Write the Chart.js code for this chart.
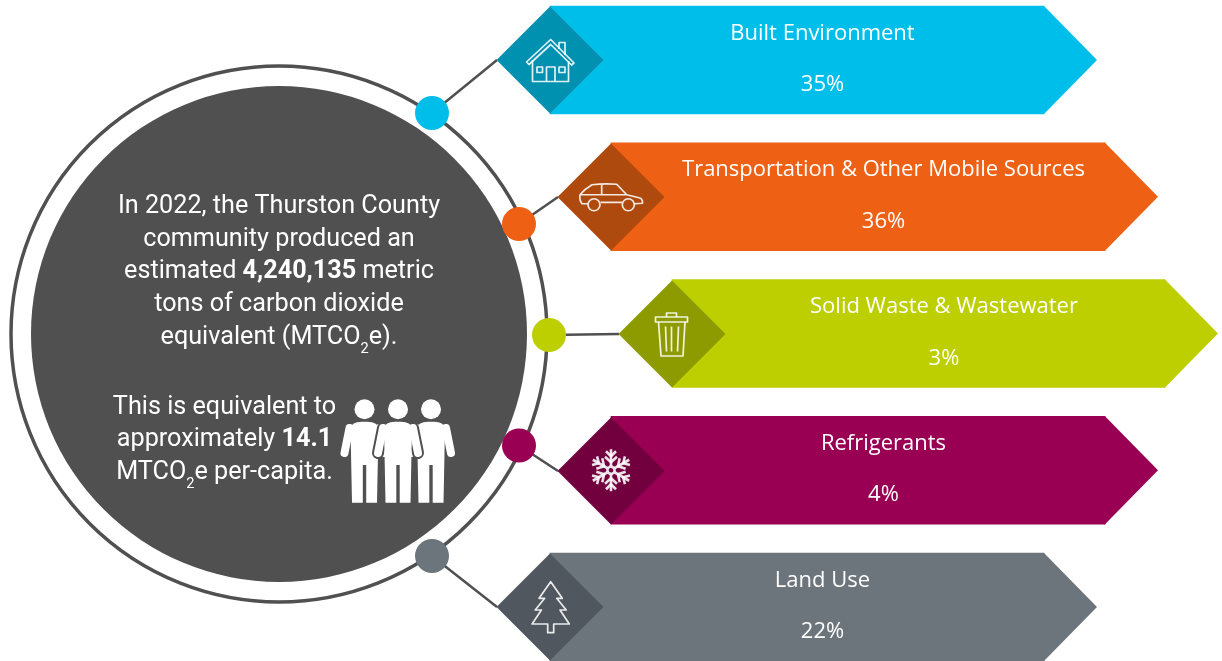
<!DOCTYPE html>
<html>
<head>
<meta charset="utf-8">
<title>Thurston County emissions</title>
<script src="https://cdn.jsdelivr.net/npm/chart.js@4"></script>
<style>
    html, body { margin: 0; padding: 0; background: #fff; overflow: hidden; }
    canvas { display: block; }
</style>
</head>
<body>
<canvas id="chart" width="1222" height="661"></canvas>
<script>
// data
const categories = ['Built Environment', 'Transportation & Other Mobile Sources', 'Solid Waste & Wastewater', 'Refrigerants', 'Land Use'];
const shares = [35, 36, 3, 4, 22];
const totalTons = '4,240,135';
const perCapita = '14.1';

// layout, in picture pixels (the banners are not drawn to scale in the original)
const bannerStart = [550, 611, 672, 611, 550];
const bannerEnd = [1044, 1105, 1165, 1105, 1044];
const dotX = [432, 519, 549, 519, 432];
const dotY = [113, 224, 335, 445.5, 556];
const anchorY = [60, 197, 334, 471, 607];
const hub = { x: 279, y: 334 };

const mainColors = ['#00BEEA', '#EE6014', '#BDCF00', '#990053', '#6C757C'];
const darkColors = ['#0090B0', '#AF4A0E', '#8E9B00', '#72003F', '#51575E'];
const DARK = '#505050';
const TEXT = '#FFFFFF';
const ICON = 'rgba(255,255,255,0.88)';

function poly(ctx, pts, close) {
    ctx.beginPath();
    pts.forEach((p, i) => i ? ctx.lineTo(p[0], p[1]) : ctx.moveTo(p[0], p[1]));
    if (close) ctx.closePath();
    ctx.stroke();
}

const icons = [
    // house
    ctx => {
        poly(ctx, [[-23.5, 2], [0.7, -20.5], [24, 3], [21.5, 5], [0.7, -15.5], [-21, 4.5]], true);
        poly(ctx, [[9, -11], [9, -17.5], [15, -17.5], [15, -5]]);
        poly(ctx, [[-17.5, 0], [-17.5, 21.5], [18.5, 21.5], [18.5, 1]]);
        poly(ctx, [[-3.5, 21.5], [-3.5, 7], [5, 7], [5, 21.5]]);
        ctx.strokeRect(-13, 7, 5.5, 5.5);
        ctx.strokeRect(8.5 + 0.5, 7, 6, 5.5);
    },
    // car
    ctx => {
        ctx.beginPath();
        ctx.moveTo(-23, 7);
        ctx.lineTo(-29, 7);
        ctx.quadraticCurveTo(-32, 3, -31, -2);
        ctx.quadraticCurveTo(-26, -8, -19, -12);
        ctx.quadraticCurveTo(-7, -13.5, 5.7, -12.5);
        ctx.lineTo(15.7, -2);
        ctx.lineTo(28, 1);
        ctx.quadraticCurveTo(32, 2, 31.5, 6.5);
        ctx.lineTo(23.5, 7);
        ctx.moveTo(-10.5, 5.7);
        ctx.lineTo(11, 5.7);
        ctx.moveTo(-31, -2);
        ctx.lineTo(15.7, -2);
        ctx.moveTo(-9.3, -12.5);
        ctx.lineTo(-9.3, -2);
        ctx.stroke();
        ctx.beginPath();
        ctx.arc(-17, 8, 6, 0, Math.PI * 2);
        ctx.moveTo(23.3, 8);
        ctx.arc(17.3, 8, 6, 0, Math.PI * 2);
        ctx.stroke();
    },
    // bin
    ctx => {
        poly(ctx, [[-16.5, -16.5], [15.5, -16.5], [15.5, -11.5], [-16.5, -11.5]], true);
        poly(ctx, [[-5.5, -16.5], [-5.5, -20.5], [4.5, -20.5], [4.5, -16.5]]);
        poly(ctx, [[-13.5, -11.5], [-11, 22.5], [11, 22.5], [13, -11.5]]);
        poly(ctx, [[-6.5, -7], [-5.5, 18]]);
        poly(ctx, [[-0.5, -7], [-0.5, 18]]);
        poly(ctx, [[6.5, -7], [5.5, 18]]);
    },
    // snowflake
    ctx => {
        ctx.save();
        ctx.lineWidth = 2.6;
        for (let i = 0; i < 6; i++) {
            poly(ctx, [[0, -4], [0, -21]]);
            poly(ctx, [[-5, -19], [0, -14], [5, -19]]);
            poly(ctx, [[-6, -13.5], [0, -8], [6, -13.5]]);
            poly(ctx, [[0, -4], [3.5, -2]]);
            ctx.rotate(Math.PI / 3);
        }
        ctx.restore();
    },
    // tree
    ctx => {
        const side = [[11.6, -8.7], [6, -8.7], [15.5, 3], [9.3, 3], [18.6, 17], [3, 17], [3, 25.7]];
        const pts = [[0.7, -25.3]].concat(side.map(p => [p[0] + 0.7, p[1]]));
        side.slice().reverse().forEach(p => pts.push([0.7 - p[0], p[1]]));
        poly(ctx, pts, true);
    }
];

function drawPerson(ctx, x, outline) {
    ctx.save();
    const shape = () => {
        ctx.beginPath();
        ctx.moveTo(x - 14, 428);
        ctx.quadraticCurveTo(x - 13, 422, x - 3, 421.7);
        ctx.lineTo(x + 3, 421.7);
        ctx.quadraticCurveTo(x + 13, 422, x + 14, 428);
        ctx.lineTo(x + 12.5, 502.7);
        ctx.lineTo(x + 1.7, 502.7);
        ctx.lineTo(x + 1.7, 465);
        ctx.lineTo(x - 1.7, 465);
        ctx.lineTo(x - 1.7, 502.7);
        ctx.lineTo(x - 12.5, 502.7);
        ctx.closePath();
    };
    const arms = () => {
        ctx.beginPath();
        ctx.moveTo(x - 15, 428);
        ctx.lineTo(x - 20, 453);
        ctx.moveTo(x + 15, 428);
        ctx.lineTo(x + 20, 453);
    };
    ctx.lineCap = 'round';
    if (outline) {
        ctx.strokeStyle = DARK;
        ctx.lineWidth = 12;
        arms();
        ctx.stroke();
    }
    ctx.fillStyle = '#FFFFFF';
    shape();
    ctx.fill();
    ctx.strokeStyle = '#FFFFFF';
    ctx.lineWidth = 8;
    arms();
    ctx.stroke();
    ctx.beginPath();
    ctx.arc(x, 409.3, 10, 0, Math.PI * 2);
    ctx.fill();
    ctx.restore();
}

// one line of hub text, made of plain, bold and subscript runs
function hubLine(ctx, runs, cx, y) {
    const size = 25.2;
    const fontOf = r => (r.bold ? 'bold ' : '') + (r.sub ? size * 0.58 : size) + 'px Roboto';
    let w = 0;
    runs.forEach(r => { ctx.font = fontOf(r); w += ctx.measureText(r.text).width; });
    let x = cx - w / 2;
    ctx.textAlign = 'left';
    ctx.textBaseline = 'alphabetic';
    ctx.fillStyle = TEXT;
    runs.forEach(r => {
        ctx.font = fontOf(r);
        ctx.fillText(r.text, x, r.sub ? y + 9.5 : y);
        x += ctx.measureText(r.text).width;
    });
}

const infographic = {
    id: 'infographic',
    afterDatasetsDraw(chart) {
        const ctx = chart.ctx;
        const xs = chart.scales.x, py = chart.scales.py;
        const bars = chart.getDatasetMeta(chart.data.datasets.findIndex(d => d.label === 'Banners')).data;
        ctx.save();
        bars.forEach((bar, i) => {
            const half = bar.height / 2;
            // arrow tip of the banner
            ctx.fillStyle = mainColors[i];
            ctx.beginPath();
            ctx.moveTo(bar.x - 1, bar.y - half);
            ctx.lineTo(bar.x, bar.y - half);
            ctx.lineTo(bar.x + half - 1, bar.y);
            ctx.lineTo(bar.x, bar.y + half);
            ctx.lineTo(bar.x - 1, bar.y + half);
            ctx.closePath();
            ctx.fill();
        });
        bars.forEach((bar, i) => {
            ctx.save();
            ctx.translate(bar.base, bar.y);
            ctx.strokeStyle = ICON;
            ctx.lineWidth = 1.7;
            ctx.lineJoin = 'round';
            icons[i](ctx);
            ctx.restore();

            const cx = (bar.base + bar.x + bar.height / 2) / 2 - 1.5;
            ctx.fillStyle = TEXT;
            ctx.textAlign = 'center';
            ctx.textBaseline = 'alphabetic';
            ctx.font = '22px "Open Sans"';
            ctx.fillText(categories[i], cx, bar.y - 20.5);
            ctx.fillText(shares[i] + '%', cx, bar.y + 31);
        });

        const cx = xs.getPixelForValue(hub.x);
        const lines = [
            [[{ text: 'In 2022, the Thurston County' }], 213],
            [[{ text: 'community produced an' }], 245.5],
            [[{ text: 'estimated ' }, { text: totalTons, bold: true }, { text: ' metric' }], 278],
            [[{ text: 'tons of carbon dioxide' }], 310.5],
            [[{ text: 'equivalent (MTCO' }, { text: '2', sub: true }, { text: 'e).' }], 343.5]
        ];
        lines.forEach(l => hubLine(ctx, l[0], cx, py.getPixelForValue(l[1])));
        const cx2 = xs.getPixelForValue(224.5);
        const lines2 = [
            [[{ text: 'This is equivalent to' }], 413.5],
            [[{ text: 'approximately ' }, { text: perCapita, bold: true }], 446],
            [[{ text: 'MTCO' }, { text: '2', sub: true }, { text: 'e per-capita.' }], 478.5]
        ];
        lines2.forEach(l => hubLine(ctx, l[0], cx2, py.getPixelForValue(l[1])));

        drawPerson(ctx, xs.getPixelForValue(364.5), false);
        drawPerson(ctx, xs.getPixelForValue(431), false);
        drawPerson(ctx, xs.getPixelForValue(398), true);
        ctx.restore();
    }
};

const connectors = categories.map((c, i) => ({
    type: 'scatter',
    label: 'Connector ' + i,
    xAxisID: 'x',
    yAxisID: 'py',
    showLine: true,
    clip: false,
    order: 5,
    borderColor: DARK,
    borderWidth: 2.5,
    pointRadius: 0,
    data: [{ x: dotX[i], y: dotY[i] }, { x: bannerStart[i] - 53, y: anchorY[i] }]
}));

new Chart(document.getElementById('chart'), {
    type: 'bar',
    plugins: [infographic],
    data: {
        labels: categories,
        datasets: [
            {
                type: 'bar',
                label: 'Banners',
                indexAxis: 'y',
                xAxisID: 'x',
                yAxisID: 'y',
                clip: false,
                order: 3,
                barThickness: 108,
                backgroundColor: mainColors,
                borderWidth: 0,
                data: categories.map((c, i) => [bannerStart[i], bannerEnd[i]])
            },
            {
                type: 'scatter',
                label: 'Diamonds',
                xAxisID: 'x',
                yAxisID: 'py',
                clip: false,
                order: 2,
                pointStyle: 'rectRot',
                pointRadius: 53.5,
                pointBorderWidth: 0,
                pointBackgroundColor: darkColors,
                data: categories.map((c, i) => ({ x: bannerStart[i], y: anchorY[i] }))
            },
            {
                type: 'scatter',
                label: 'Dots',
                xAxisID: 'x',
                yAxisID: 'py',
                clip: false,
                order: 4,
                pointRadius: 17,
                pointBorderWidth: 0,
                pointBackgroundColor: mainColors,
                data: categories.map((c, i) => ({ x: dotX[i], y: dotY[i] }))
            },
            ...connectors,
            {
                type: 'scatter',
                label: 'Disk',
                xAxisID: 'x',
                yAxisID: 'py',
                clip: false,
                order: 6,
                pointRadius: 248,
                pointBorderWidth: 0,
                pointBackgroundColor: DARK,
                data: [hub]
            },
            {
                type: 'scatter',
                label: 'Ring',
                xAxisID: 'x',
                yAxisID: 'py',
                clip: false,
                order: 7,
                pointRadius: 268,
                pointBorderWidth: 3.5,
                pointBorderColor: DARK,
                pointBackgroundColor: '#FFFFFF',
                data: [hub]
            }
        ]
    },
    options: {
        responsive: false,
        animation: false,
        events: [],
        layout: { autoPadding: false, padding: { top: 60, bottom: 54, left: 0, right: 0 } },
        plugins: { legend: { display: false }, tooltip: { enabled: false } },
        scales: {
            x: { type: 'linear', min: 0, max: 1222, offset: false, display: false },
            y: { type: 'category', labels: categories, offset: false, display: false },
            py: { type: 'linear', min: 60, max: 607, reverse: true, display: false }
        }
    }
});
</script>
</body>
</html>
